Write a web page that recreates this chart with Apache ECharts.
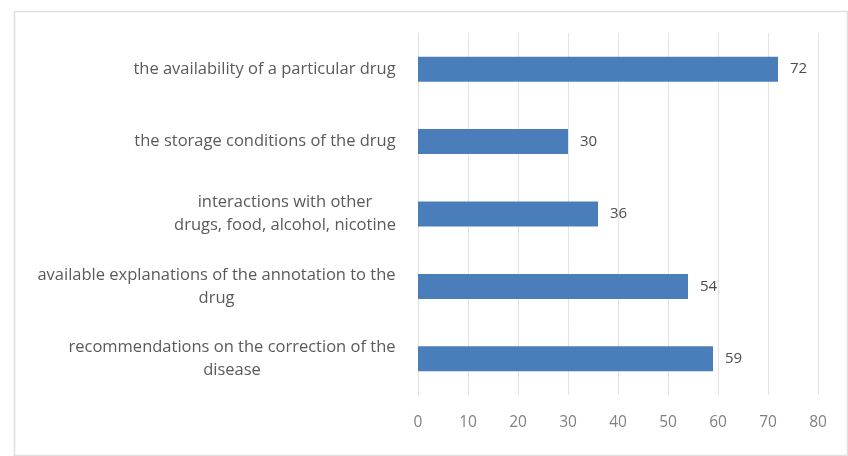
<!DOCTYPE html>
<html><head><meta charset="utf-8">
<script src="https://cdn.jsdelivr.net/npm/echarts@6/dist/echarts.min.js"></script>
<style>html,body{margin:0;padding:0;background:#fff}#c{width:848px;height:456px}</style>
</head><body><div id="c"></div>
<script>
const categories = [
  "recommendations on the correction of the\ndisease",
  "available explanations of the annotation to the\ndrug",
  "interactions with other\ndrugs, food, alcohol, nicotine",
  "the storage conditions of the drug",
  "the availability of a particular drug"
];
const values = [59, 54, 36, 30, 72];
const xTicks = [0, 10, 20, 30, 40, 50, 60, 70, 80];

const LABEL_FONT = 16.5;
const LABEL_FAMILY = 'Open Sans';
const ctx = document.createElement('canvas').getContext('2d');
ctx.font = LABEL_FONT + 'px "' + LABEL_FAMILY + '"';
const rich = {};
const fmtMap = {};
categories.forEach((c, i) => {
  const lines = c.split('\n');
  const w = Math.ceil(Math.max(...lines.map(l => ctx.measureText(l).width))) + 2;
  rich['b' + i] = {width: w, align: 'center', fontSize: LABEL_FONT, fontFamily: LABEL_FAMILY,
    color: '#5a5a5a', lineHeight: 23};
  fmtMap[c] = lines.map(l => '{b' + i + '|' + l + '}').join('\n');
});

const chart = echarts.init(document.getElementById('c'), null, {renderer: 'canvas'});
chart.setOption({
  animation: false,
  backgroundColor: '#fff',
  graphic: [{
    type: 'rect', left: 12, top: 9,
    shape: {width: 833, height: 444},
    style: {fill: 'none', stroke: '#e0e0e0', lineWidth: 1.5}
  }],
  grid: {left: 418, right: 30, top: 33, bottom: 61, containLabel: false},
  xAxis: {
    type: 'value', min: xTicks[0], max: xTicks[xTicks.length - 1], interval: 10,
    axisLine: {show: false}, axisTick: {show: false},
    splitLine: {show: true, lineStyle: {color: '#e3e3e3', width: 1}},
    axisLabel: {color: '#808080', fontSize: 15.5, fontFamily: 'Open Sans', margin: 20}
  },
  yAxis: {
    type: 'category', data: categories,
    axisLine: {show: true, lineStyle: {color: '#e0e0e0'}}, axisTick: {show: false},
    axisLabel: {
      margin: 21, align: 'right',
      formatter: v => fmtMap[v],
      rich: rich
    }
  },
  series: [{
    type: 'bar', data: values, barWidth: 25,
    itemStyle: {color: '#4a7ebb'},
    label: {show: true, position: 'right', distance: 12, color: '#4d4d4d', fontSize: 15, fontFamily: 'Open Sans'}
  }]
});
</script></body></html>
